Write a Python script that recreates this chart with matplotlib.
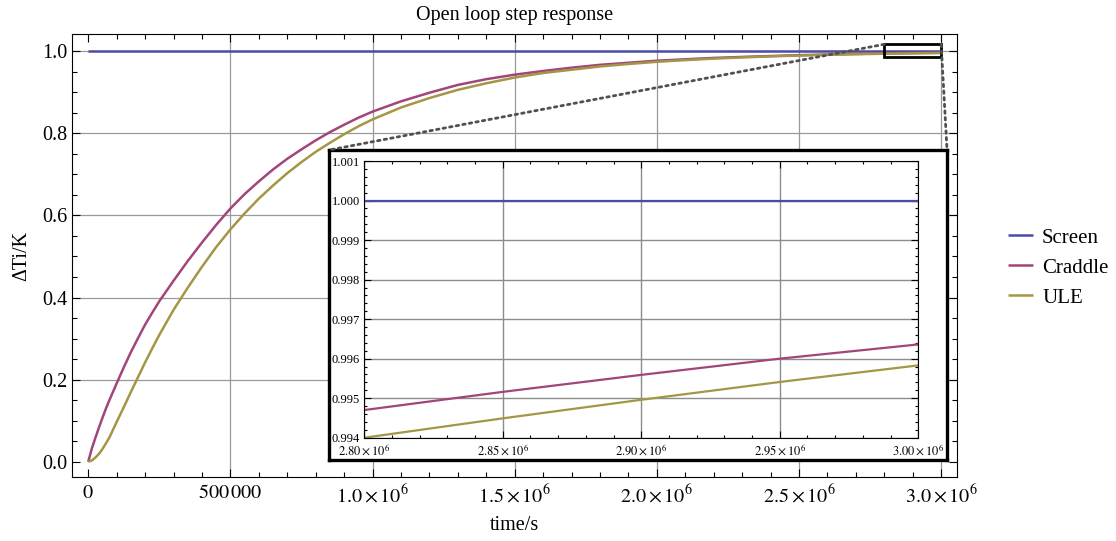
import matplotlib
matplotlib.use('Agg')
import matplotlib.pyplot as plt
from matplotlib.patches import Rectangle, ConnectionPatch
from matplotlib.ticker import MultipleLocator, FixedLocator, FixedFormatter

plt.rcParams['font.family'] = ['Liberation Serif', 'DejaVu Serif']
plt.rcParams['mathtext.fontset'] = 'stix'

# sampled step responses (time in s, normalised temperature rise)
time_s = [0, 12.5e3, 25e3, 37.5e3, 50e3, 62.5e3, 75e3, 100e3, 125e3, 150e3, 175e3,
          200e3, 225e3, 250e3, 300e3, 350e3, 400e3, 450e3, 500e3, 550e3, 600e3,
          650e3, 700e3, 750e3, 800e3, 850e3, 900e3, 950e3, 1.0e6, 1.1e6, 1.2e6,
          1.3e6, 1.4e6, 1.5e6, 1.6e6, 1.7e6, 1.8e6, 1.9e6, 2.0e6, 2.1e6, 2.2e6,
          2.3e6, 2.4e6, 2.5e6, 2.6e6, 2.7e6, 2.8e6, 2.85e6, 2.9e6, 2.95e6, 3.0e6]
craddle = [0.0, 0.032, 0.058, 0.083, 0.107, 0.130, 0.151, 0.191, 0.230, 0.267, 0.301,
           0.334, 0.363, 0.391, 0.441, 0.489, 0.534, 0.577, 0.617, 0.652, 0.683,
           0.712, 0.738, 0.761, 0.783, 0.803, 0.821, 0.838, 0.853, 0.878, 0.899,
           0.918, 0.932, 0.943, 0.952, 0.960, 0.967, 0.972, 0.977, 0.9805, 0.9838,
           0.9862, 0.9884, 0.9905, 0.9921, 0.9936, 0.99470, 0.99516, 0.99559, 0.99600, 0.99636]
ule = [0.0, 0.003, 0.010, 0.019, 0.031, 0.045, 0.060, 0.097, 0.133, 0.170, 0.206,
       0.242, 0.276, 0.309, 0.370, 0.424, 0.475, 0.523, 0.566, 0.605, 0.641,
       0.673, 0.703, 0.730, 0.755, 0.777, 0.798, 0.817, 0.834, 0.863, 0.886,
       0.906, 0.922, 0.936, 0.947, 0.955, 0.963, 0.969, 0.9743, 0.9785, 0.9821,
       0.9850, 0.9875, 0.9896, 0.9913, 0.9928, 0.99400, 0.99449, 0.99496, 0.99541, 0.99583]
screen_t = [0, 3.0e6]
screen = [1.0, 1.0]

series = [
    ('Screen', screen_t, screen, '#4C4CA8'),
    ('Craddle', time_s, craddle, '#A3457A'),
    ('ULE', time_s, ule, '#A39645'),
]

main_xticks = [0, 0.5e6, 1.0e6, 1.5e6, 2.0e6, 2.5e6, 3.0e6]
main_xlabels = [r'$0$', r'$500\,000$', r'$1.0\times10^{6}$', r'$1.5\times10^{6}$',
                r'$2.0\times10^{6}$', r'$2.5\times10^{6}$', r'$3.0\times10^{6}$']
main_yticks = [0.0, 0.2, 0.4, 0.6, 0.8, 1.0]
ins_xticks = [2.80e6, 2.85e6, 2.90e6, 2.95e6, 3.00e6]
ins_xlabels = [r'$2.80\times10^{6}$', r'$2.85\times10^{6}$', r'$2.90\times10^{6}$',
               r'$2.95\times10^{6}$', r'$3.00\times10^{6}$']
ins_yticks = [0.994, 0.995, 0.996, 0.997, 0.998, 0.999, 1.000, 1.001]

zoom_x = (2.8e6, 3.0e6)
zoom_y = (0.987, 1.017)

fig = plt.figure(figsize=(11.16, 5.41), dpi=100)
ax = fig.add_axes([0.0642, 0.1177, 0.7933, 0.8194])
for name, t, y, c in series:
    ax.plot(t, y, color=c, lw=1.8, label=name, solid_capstyle='butt')
ax.set_xlim(-58400, 3.0556e6)
ax.set_ylim(-0.038, 1.042)
ax.xaxis.set_major_locator(FixedLocator(main_xticks))
ax.xaxis.set_major_formatter(FixedFormatter(main_xlabels))
ax.xaxis.set_minor_locator(MultipleLocator(1e5))
ax.set_yticks(main_yticks)
ax.set_yticklabels([f'{v:.1f}' for v in main_yticks])
ax.yaxis.set_minor_locator(MultipleLocator(0.05))
ax.tick_params(which='both', direction='in', top=True, right=True, width=0.8, labelsize=14.5)
ax.tick_params(which='major', length=6)
ax.tick_params(which='minor', length=3.5)
ax.tick_params(axis='y', pad=3)
ax.tick_params(axis='x', pad=5)
for x in main_xticks[1:]:
    ax.axvline(x, color='#999999', lw=0.9, zorder=0)
for y in main_yticks[1:]:
    ax.axhline(y, color='#999999', lw=0.9, zorder=0)
for s in ax.spines.values():
    s.set_linewidth(0.8)
ax.set_title('Open loop step response', fontsize=14.5, pad=10)
ax.set_xlabel('time/s', fontsize=14.5, labelpad=6)
ax.set_ylabel('ΔTi/K', fontsize=14.5, labelpad=8)

# box marking the zoomed region
ax.add_patch(Rectangle((zoom_x[0], zoom_y[0]), zoom_x[1] - zoom_x[0], zoom_y[1] - zoom_y[0],
                       fill=False, ec='black', lw=2.0, zorder=5))

leg = ax.legend(loc='center left', bbox_to_anchor=(0.903, 0.505),
                bbox_transform=fig.transFigure, frameon=False, fontsize=15,
                handlelength=1.2, handletextpad=0.45, labelspacing=0.5,
                borderpad=0, borderaxespad=0)

# white framed panel holding the magnified view
box = fig.add_axes([0.2948, 0.1497, 0.5538, 0.5730])
box.set_xticks([])
box.set_yticks([])
box.set_facecolor('white')
for s in box.spines.values():
    s.set_linewidth(2.4)

ins = fig.add_axes([0.3264, 0.1909, 0.4964, 0.5115])
for name, t, y, c in series:
    ins.plot(t, y, color=c, lw=1.6)
ins.set_xlim(*zoom_x)
ins.set_ylim(0.994, 1.001)
ins.xaxis.set_major_locator(FixedLocator(ins_xticks))
ins.xaxis.set_major_formatter(FixedFormatter(ins_xlabels))
ins.xaxis.set_minor_locator(MultipleLocator(1e4))
ins.set_yticks(ins_yticks)
ins.set_yticklabels([f'{v:.3f}' for v in ins_yticks])
ins.yaxis.set_minor_locator(MultipleLocator(0.0002))
ins.tick_params(which='both', direction='in', top=True, right=True, width=0.8, labelsize=9)
ins.tick_params(which='major', length=5)
ins.tick_params(which='minor', length=2.5)
ins.tick_params(axis='y', pad=3)
ins.tick_params(axis='x', pad=4)
ins.grid(True, which='major', color='#8c8c8c', lw=1.0)
ins.set_axisbelow(True)
for s in ins.spines.values():
    s.set_linewidth(0.8)

# dotted leaders from the zoom box to the panel corners
for xa, xb in [(zoom_x[0], 0.0), (zoom_x[1], 1.0)]:
    con = ConnectionPatch(xyA=(xa, zoom_y[1]), coordsA=ax.transData,
                          xyB=(xb, 1.0), coordsB=box.transAxes,
                          color='#505050', lw=2.0, linestyle=(0, (0.9, 1.5)))
    fig.add_artist(con)

fig.savefig('out.png', dpi=100)
